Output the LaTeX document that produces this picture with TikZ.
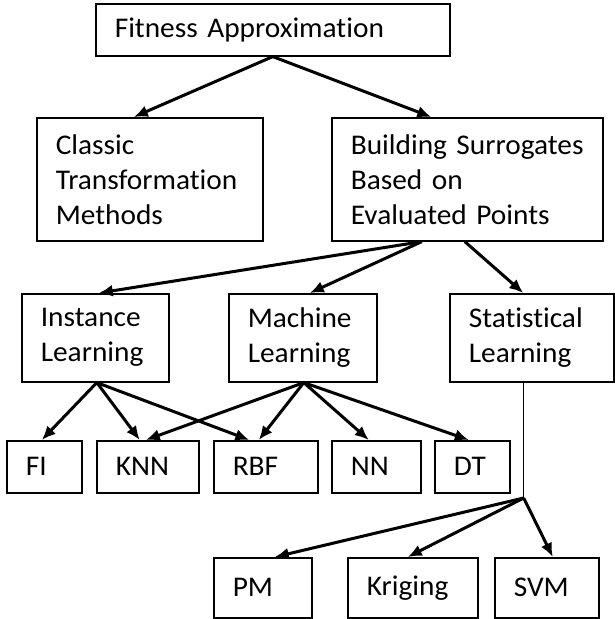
\documentclass[tikz,border=0pt]{standalone}
\usepackage{fontspec}
\setmainfont[FakeStretch=1.03, Ligatures=NoCommon]{Carlito}
\usetikzlibrary{arrows.meta}
\begin{document}
\begin{tikzpicture}[x=1pt,y=-1pt,
  box/.style={draw, line width=1.6pt, rectangle, anchor=north west,
    inner xsep=19pt, inner ysep=0pt, align=left,
    font=\fontsize{28.5}{35}\selectfont},
  link/.style={line width=3pt, -{Latex[length=14pt,width=12pt]}},
  stem/.style={line width=1.3pt}]
\useasboundingbox[fill=white] (0,0) rectangle (614,619);

% level 0
\node[box, minimum width=354pt, minimum height=52pt, text width=316pt] (fa) at (95,3) {Fitness Approximation};

% level 1
\node[box, minimum width=226pt, minimum height=123pt, text width=188pt] (ctm) at (36,117) {Classic\\Transformation\\Methods};
\node[box, minimum width=271pt, minimum height=123pt, text width=233pt] (bs) at (331,117) {Building~Surrogates\\Based on\\Evaluated~Points};

% level 2
\node[box, minimum width=147pt, minimum height=88pt, text width=109pt] (il) at (21,293) {Instance\\Learning};
\node[box, minimum width=148pt, minimum height=88pt, text width=110pt] (ml) at (228,293) {Machine\\Learning};
\node[box, minimum width=164pt, minimum height=88pt, text width=126pt] (sl) at (449,293) {Statistical\\Learning};

% level 3
\node[box, minimum width=75pt,  minimum height=52pt, text width=37pt] (fi)  at (6,440)   {FI};
\node[box, minimum width=102pt, minimum height=52pt, text width=64pt] (knn) at (96,440)  {KNN};
\node[box, minimum width=104pt, minimum height=52pt, text width=66pt] (rbf) at (213,440) {RBF};
\node[box, minimum width=89pt,  minimum height=52pt, text width=51pt] (nn)  at (331,440) {NN};
\node[box, minimum width=75pt,  minimum height=52pt, text width=37pt] (dt)  at (434,440) {DT};

% level 4
\node[box, minimum width=98pt,  minimum height=60pt, text width=60pt] (pm)  at (213,557) {PM};
\node[box, minimum width=130pt, minimum height=60pt, text width=92pt] (kr)  at (347,557) {Kriging};
\node[box, minimum width=104pt, minimum height=60pt, text width=66pt] (svm) at (494,557) {SVM};

% connectors
\draw[link] (fa.south) -- ([xshift=-16pt]ctm.north);
\draw[link] (fa.south) -- ([xshift=-36pt]bs.north);

\draw[link] ([xshift=-45.5pt]bs.south) -- ([xshift=3.5pt]il.north);
\draw[link] ([xshift=-45.5pt]bs.south) -- ([xshift=7pt]ml.north);
\draw[link] ([xshift=-2.5pt]bs.south) -- ([xshift=-8.5pt]sl.north);

\draw[link] ([xshift=1.5pt]il.south) -- ([xshift=-2.5pt]fi.north);
\draw[link] ([xshift=1.5pt]il.south) -- ([xshift=-8pt]knn.north);
\draw[link] ([xshift=1.5pt]il.south) -- ([xshift=-16.5pt]rbf.north);

\draw[link] ([xshift=1pt]ml.south) -- ([xshift=-2pt]knn.north);
\draw[link] ([xshift=1pt]ml.south) -- ([xshift=-7pt]rbf.north);
\draw[link] ([xshift=1pt]ml.south) -- ([xshift=-7.5pt]nn.north);
\draw[link] ([xshift=1pt]ml.south) -- ([xshift=-3.5pt]dt.north);

\coordinate (sj) at (523.7,498);
\draw[stem] (sj |- sl.south) -- (sj);
\draw[link] (sj) -- ([xshift=12pt]pm.north);
\draw[link] (sj) -- ([xshift=-5pt]kr.north);
\draw[link] (sj) -- ([xshift=6pt]svm.north);
\end{tikzpicture}
\end{document}
